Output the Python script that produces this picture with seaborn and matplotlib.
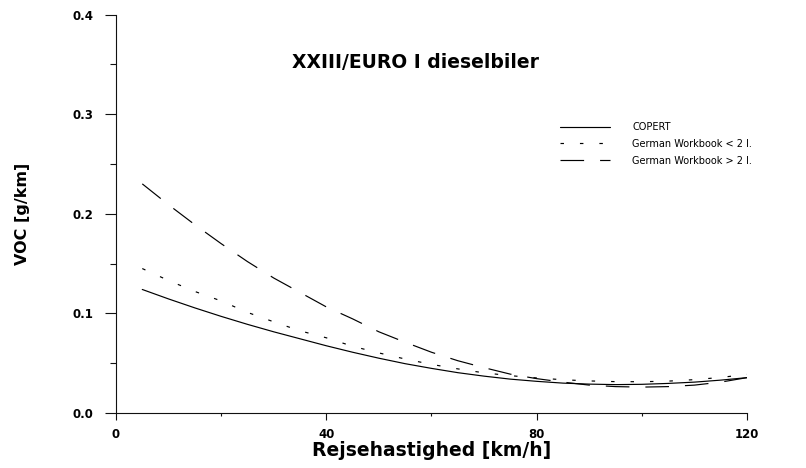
import numpy as np
import pandas as pd
import matplotlib
matplotlib.use("Agg")
import matplotlib.pyplot as plt
import seaborn as sns
from matplotlib.ticker import MultipleLocator, FixedLocator

# Travel speed (km/h) and VOC emission factors (g/km)
speed = [5, 10, 15, 20, 25, 30, 35, 40, 45, 50, 55, 60,
         65, 70, 75, 80, 85, 90, 95, 100, 105, 110, 115, 120]
copert = [0.124, 0.1145, 0.1055, 0.097, 0.089, 0.0815, 0.0745, 0.0675,
          0.061, 0.055, 0.0495, 0.0448, 0.0405, 0.037, 0.034, 0.0318,
          0.030, 0.029, 0.0285, 0.0288, 0.0297, 0.031, 0.033, 0.0355]
gwb_small = [0.145, 0.133, 0.122, 0.1125, 0.101, 0.0915, 0.0825, 0.0755,
             0.067, 0.0603, 0.0542, 0.0488, 0.0443, 0.0403, 0.0375, 0.0352,
             0.0334, 0.0322, 0.0315, 0.0314, 0.032, 0.0335, 0.0357, 0.0388]
gwb_large = [0.230, 0.209, 0.189, 0.170, 0.152, 0.1355, 0.121, 0.1065,
             0.0945, 0.0815, 0.071, 0.061, 0.0525, 0.0455, 0.039, 0.0345,
             0.031, 0.028, 0.0265, 0.026, 0.0265, 0.028, 0.031, 0.0355]
series_names = ["COPERT", "German Workbook < 2 l.", "German Workbook > 2 l."]

x_ticks = [0, 40, 80, 120]
y_ticks = [0.0, 0.1, 0.2, 0.3, 0.4]

sns.set_theme(style="ticks")
plt.rcParams["font.family"] = ["DejaVu Sans"]
plt.rcParams["lines.scale_dashes"] = False
for key in ("text.color", "axes.labelcolor", "xtick.color", "ytick.color",
            "axes.edgecolor"):
    plt.rcParams[key] = "black"

fig = plt.figure(figsize=(8.06, 4.68), dpi=100)
ax = fig.add_axes([0.1439, 0.1175, 0.7829, 0.8515])

line_styles = {
    "COPERT": "-",
    "German Workbook < 2 l.": (0, (2.5, 11.5)),
    "German Workbook > 2 l.": (0, (17, 11.5)),
}
values = {
    "COPERT": copert,
    "German Workbook < 2 l.": gwb_small,
    "German Workbook > 2 l.": gwb_large,
}
for name in series_names:
    df = pd.DataFrame({"speed": speed, "voc": values[name]})
    sns.lineplot(data=df, x="speed", y="voc", ax=ax, color="black",
                 linewidth=0.85, linestyle=line_styles[name], label=name)

ax.set_xlim(0, 120)
ax.set_ylim(0, 0.4)
ax.xaxis.set_major_locator(FixedLocator(x_ticks))
ax.yaxis.set_major_locator(FixedLocator(y_ticks))
ax.xaxis.set_minor_locator(MultipleLocator(20))
ax.yaxis.set_minor_locator(MultipleLocator(0.05))
ax.set_xticklabels([str(v) for v in x_ticks])
ax.set_yticklabels([f"{v:.1f}" for v in y_ticks])

for side in ("top", "right"):
    ax.spines[side].set_visible(False)
for side in ("left", "bottom"):
    ax.spines[side].set_linewidth(0.8)
    ax.spines[side].set_color("#111111")

ax.tick_params(axis="y", which="major", length=8, width=0.8, pad=8,
               labelsize=8.5, color="#111111")
ax.tick_params(axis="y", which="minor", length=4.3, width=0.8, color="#111111")
ax.tick_params(axis="x", which="major", length=5, width=0.8, pad=6,
               labelsize=8.5, color="#111111")
ax.tick_params(axis="x", which="minor", length=2, width=0.8, color="#111111")
for lbl in ax.get_xticklabels() + ax.get_yticklabels():
    lbl.set_fontweight("bold")

ax.set_xlabel("Rejsehastighed [km/h]", fontsize=13.5, fontweight="bold",
              labelpad=0)
ax.set_ylabel("VOC [g/km]", fontsize=11.5, fontweight="bold", labelpad=31)
ax.set_title("XXIII/EURO I dieselbiler", fontsize=13.5, fontweight="bold",
             x=0.474, y=0.845)

leg = ax.legend(loc="upper left", bbox_to_anchor=(0.69, 0.752), frameon=False,
                fontsize=7, handlelength=5.1, handletextpad=2.3,
                labelspacing=0.7)
for h in leg.get_lines():
    h.set_linewidth(0.85)

fig.savefig("out.png", dpi=100)
